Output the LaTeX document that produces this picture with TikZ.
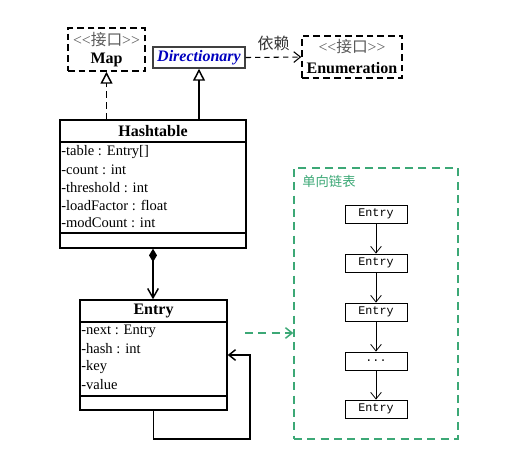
\documentclass[tikz,border=0pt]{standalone}
\usepackage{fontspec}
\setmainfont{Liberation Serif}
\setmonofont{Liberation Mono}
\newfontfamily\cjk{Noto Sans CJK SC}
\usetikzlibrary{arrows.meta}
\definecolor{listgreen}{RGB}{60,168,118}
\definecolor{ifacegray}{RGB}{90,90,90}
\newcommand{\ifacetag}{<\kern0pt<{\cjk 接口}>\kern0pt>}
\tikzset{
    umlbox/.style={draw, line width=1.1pt, rectangle, inner sep=0pt},
    ifacebox/.style={umlbox, dashed, dash pattern=on 5pt off 3pt},
    attr/.style={anchor=west, inner sep=0pt, font=\fontsize{10.9}{13}\selectfont},
    ctitle/.style={inner sep=0pt, font=\fontsize{12}{14}\selectfont\bfseries},
    stereo/.style={inner sep=0pt, text=ifacegray, font=\fontsize{11.8}{13}\selectfont},
    listnode/.style={draw, line width=0.6pt, minimum width=46.5pt, minimum height=13.5pt, inner sep=0pt, font=\fontsize{8.8}{10}\selectfont\ttfamily},
    realize/.style={line width=1.1pt, -{Triangle[open, length=9pt, width=9pt]}},
    barb/.style={-{Straight Barb[length=5pt, width=8pt]}}
}
\begin{document}
\begin{tikzpicture}[x=0.75pt, y=-0.75pt]
        \useasboundingbox (0,0) rectangle (517,469);

        % Nodes
        \node[ifacebox, minimum width=57.75pt, minimum height=32.25pt] (Map) at (106.5, 49.5) {};
        \node[stereo] (MapStereo) at (106.5, 40) {\ifacetag};
        \node[ctitle] (MapName) at (106.5, 60) {Map};

        \node[umlbox, draw=black!75, fill=white, minimum width=69pt, minimum height=15.75pt] (Dict) at (199, 57.5)
            {\fontsize{12}{14}\selectfont\bfseries\itshape\color{blue!75!black}Directionary};

        \node[ifacebox, minimum width=75pt, minimum height=31.5pt] (Enum) at (352, 57) {};
        \node[stereo] (EnumStereo) at (352, 47) {\ifacetag};
        \node[ctitle] (EnumName) at (352, 68) {Enumeration};

        \node[umlbox, minimum width=139.5pt, minimum height=96pt] (Hashtable) at (153, 184) {};
        \node[ctitle] (HashtableName) at (153, 131) {Hashtable};
        \draw[line width=1.1pt] (60, 142) -- (246, 142);
        \draw[line width=1.1pt] (60, 233) -- (246, 233);
        \node[attr] (HtTable) at (61, 152) {-table : Entry[]};
        \node[attr] (HtCount) at (61, 170) {-count : int};
        \node[attr] (HtThreshold) at (61, 187.5) {-threshold : int};
        \node[attr] (HtLoad) at (61, 205.5) {-loadFactor : float};
        \node[attr] (HtMod) at (61, 223) {-modCount : int};

        \node[umlbox, minimum width=110.25pt, minimum height=82.5pt] (Entry) at (153.5, 355) {};
        \node[ctitle] (EntryName) at (153.5, 311) {Entry};
        \draw[line width=1.1pt] (80, 322) -- (227, 322);
        \draw[line width=1.1pt] (80, 396) -- (227, 396);
        \node[attr] (EnNext) at (81, 331) {-next : Entry};
        \node[attr] (EnHash) at (81, 349) {-hash : int};
        \node[attr] (EnKey) at (81, 367) {-key};
        \node[attr] (EnValue) at (81, 385) {-value};

        \node[draw=listgreen, line width=1.1pt, dashed, dash pattern=on 6pt off 4pt,
              minimum width=123pt, minimum height=203.25pt] (List) at (376, 303.5) {};
        \node[anchor=west, inner sep=0pt, text=listgreen, font=\fontsize{10}{12}\selectfont\cjk] (ListName) at (302, 181) {单向链表};
        \node[listnode] (L1) at (376, 214) {Entry};
        \node[listnode] (L2) at (376, 263) {Entry};
        \node[listnode] (L3) at (376, 312) {Entry};
        \node[listnode] (L4) at (376, 361) {...};
        \node[listnode] (L5) at (376, 409) {Entry};

        \coordinate (LoopCorner) at (250, 439);
        \coordinate (LinkFrom) at (245, 333);

        % Arrows
        \draw[realize, dashed, dash pattern=on 5pt off 3pt] (Map.south |- Hashtable.north) -- (Map.south);
        \draw[realize] (Dict.south |- Hashtable.north) -- (Dict.south);
        \draw[barb, line width=0.8pt, dashed, dash pattern=on 4pt off 3pt] (Dict.east) -- node[above=1pt, text=black!80, font=\fontsize{12}{14}\selectfont\cjk] {依赖} (Enum.west);
        \draw[line width=1.1pt, {Diamond[length=10pt, width=6pt]}-{Straight Barb[length=7pt, width=8pt]}] (Hashtable.south) -- (Hashtable.south |- Entry.north);
        \draw[barb, line width=1.1pt] (Entry.south) |- (LoopCorner) |- (Entry.east);
        \draw[barb, listgreen, line width=1.1pt, dashed, dash pattern=on 6pt off 4pt] (LinkFrom) -- (LinkFrom -| List.west);
        \foreach \a/\b in {L1/L2, L2/L3, L3/L4, L4/L5}
            \draw[barb, line width=0.6pt] (\a) -- (\b);
\end{tikzpicture}
\end{document}
